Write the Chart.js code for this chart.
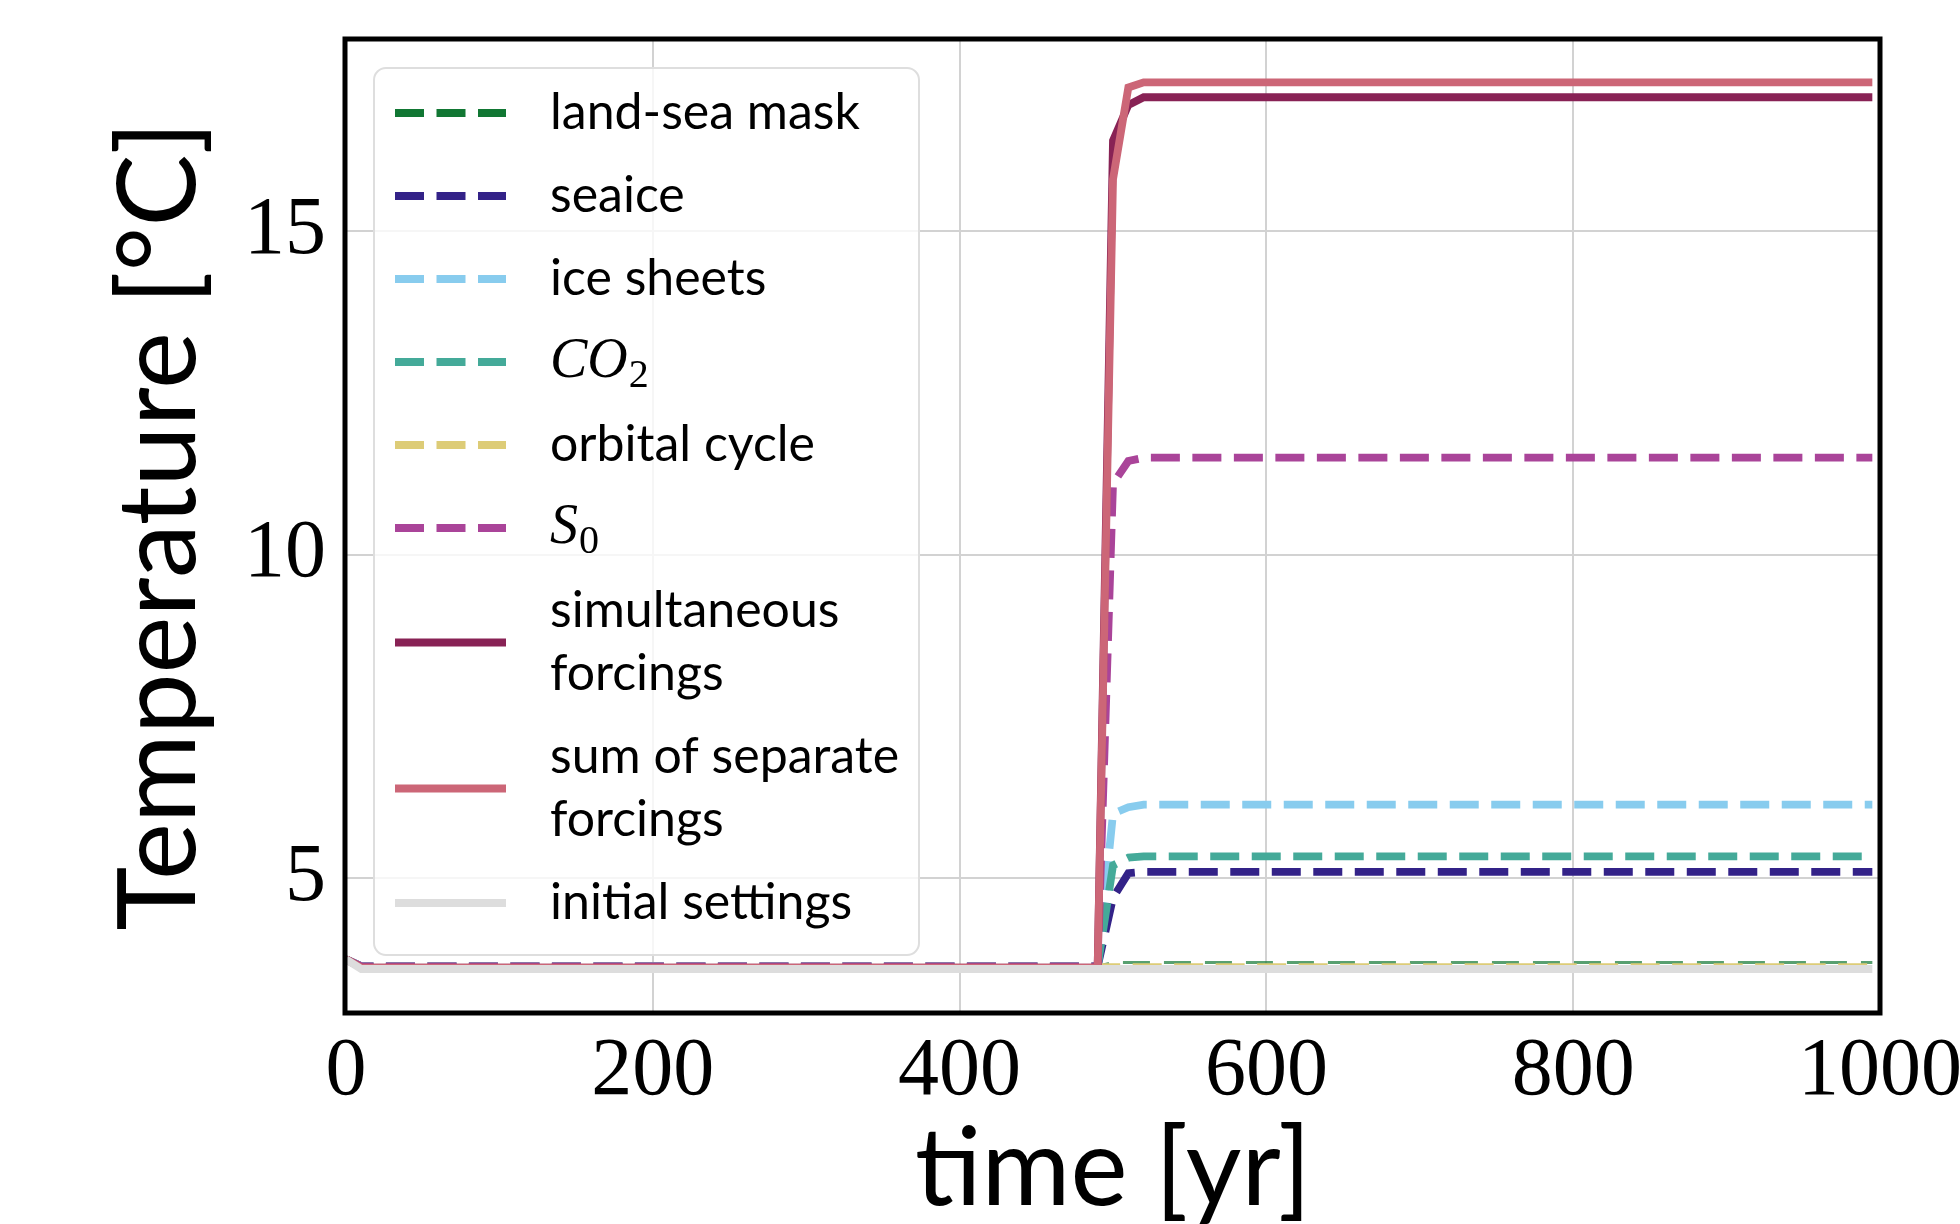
<!DOCTYPE html>
<html>
<head>
<meta charset="utf-8">
<script src="https://cdn.jsdelivr.net/npm/chart.js@4.4.1/dist/chart.umd.min.js"></script>
<style>
  html, body { margin: 0; padding: 0; background: #fff; }
  #wrap { width: 1960px; height: 1224px; }
</style>
</head>
<body>
<div id="wrap"><canvas id="tempChart"></canvas></div>
<script>
// DATA (breakpoints of each curve)
const years = [0, 10, 490, 500, 510, 520, 995];
const landSea = [3.75, 3.64, 3.64, 3.70, 3.70, 3.70, 3.70];
const seaice = [3.75, 3.64, 3.64, 4.70, 5.08, 5.10, 5.10];
const iceSheets = [3.75, 3.64, 3.64, 6.00, 6.10, 6.14, 6.14];
const co2 = [3.75, 3.64, 3.64, 5.20, 5.32, 5.34, 5.34];
const orbital = [3.75, 3.63, 3.63, 3.63, 3.63, 3.63, 3.63];
const s0 = [3.75, 3.64, 3.64, 11.10, 11.45, 11.50, 11.50];
const simultaneous = [3.75, 3.62, 3.62, 16.40, 16.95, 17.07, 17.07];
const sumSeparate = [3.75, 3.62, 3.62, 15.80, 17.22, 17.30, 17.30];
const initial = [3.75, 3.60, 3.60, 3.60, 3.60, 3.60, 3.60];

const seriesLabels = [
  'land-sea mask', 'seaice', 'ice sheets', 'CO_2', 'orbital cycle', 'S_0',
  ['simultaneous', 'forcings'], ['sum of separate', 'forcings'], 'initial settings'
];
const xTickValues = [0, 200, 400, 600, 800, 1000];
const yTickValues = [5, 10, 15];

// STYLE
const colors = ['#117733', '#332288', '#88CCEE', '#44AA99', '#DDCC77', '#AA4499', '#882255', '#CC6677', '#DDDDDD'];
const dashed = [true, true, true, true, true, true, false, false, false];
const DASH = [29, 12.5];

const allSeries = [landSea, seaice, iceSheets, co2, orbital, s0, simultaneous, sumSeparate, initial];

const datasets = allSeries.map((vals, i) => ({
  label: seriesLabels[i],
  data: years.map((t, k) => ({ x: t, y: vals[k] })),
  borderColor: i === 0 ? 'rgba(17,119,51,0.7)' : colors[i],
  legendColor: colors[i],
  borderWidth: i === 0 ? 3 : 7.8,
  borderDash: dashed[i] ? (i === 0 ? [27, 14] : DASH) : [],
  legendDash: dashed[i] ? DASH : [],
  pointRadius: 0,
  tension: 0,
  fill: false,
  order: allSeries.length - i  // later series drawn on top, like matplotlib
}));

function drawLabel(ctx, text, x, y) {
  if (text.includes('_')) {
    const [base, sub] = text.split('_');
    ctx.font = 'italic 56px "Liberation Serif", serif';
    ctx.fillText(base, x, y);
    const w = ctx.measureText(base).width;
    ctx.font = '40px "Liberation Serif", serif';
    ctx.fillText(sub, x + w + 1, y + 14);
  } else {
    ctx.font = '50px Lato, sans-serif';
    ctx.fillText(text, x, y);
  }
}

const boxLegend = {
  id: 'boxLegend',
  afterDatasetsDraw(chart) {
    const ctx = chart.ctx;
    const a = chart.chartArea;
    const bx = a.left + 28, by = a.top + 29, bw = 545, bh = 887;
    ctx.save();
    ctx.beginPath();
    ctx.roundRect(bx, by, bw, bh, 12);
    ctx.fillStyle = 'rgba(255,255,255,0.8)';
    ctx.fill();
    ctx.lineWidth = 2;
    ctx.strokeStyle = '#dedede';
    ctx.stroke();

    ctx.textBaseline = 'middle';
    ctx.textAlign = 'left';
    let y = by + 45;
    chart.data.datasets.forEach(ds => {
      const lines = Array.isArray(ds.label) ? ds.label : [ds.label];
      const mid = y + (lines.length - 1) * 63 / 2;
      ctx.beginPath();
      ctx.setLineDash(ds.legendDash);
      ctx.lineCap = 'butt';
      ctx.lineWidth = 8;
      ctx.strokeStyle = ds.legendColor;
      ctx.moveTo(bx + 21, mid);
      ctx.lineTo(bx + 132, mid);
      ctx.stroke();
      ctx.setLineDash([]);
      ctx.fillStyle = '#000';
      lines.forEach((ln, k) => drawLabel(ctx, ln, bx + 176, y + k * 63));
      y += (lines.length - 1) * 63 + 83;
    });
    ctx.restore();
  },
  afterDraw(chart) {
    const ctx = chart.ctx;
    const a = chart.chartArea;
    ctx.save();
    ctx.lineWidth = 5;
    ctx.strokeStyle = '#000';
    ctx.strokeRect(a.left - 1, a.top, a.right - a.left + 1, a.bottom - a.top);
    ctx.restore();
  }
};

const config = {
  type: 'line',
  data: { datasets },
  options: {
    responsive: true,
    maintainAspectRatio: false,
    animation: false,
    layout: { padding: { left: 0, top: 39, right: 80, bottom: 0 } },
    plugins: {
      legend: { display: false },
      tooltip: { enabled: false }
    },
    scales: {
      x: {
        type: 'linear',
        min: 0,
        max: 1000,
        afterBuildTicks: (scale) => { scale.ticks = xTickValues.map(v => ({ value: v })); },
        afterFit: (scale) => {
          scale.height = 211;
          scale.paddingLeft = 0;
          scale.paddingRight = 0;
        },
        ticks: {
          color: '#000',
          padding: 10,
          maxRotation: 0,
          callback: (v) => String(v),
          font: { family: '"Liberation Serif", serif', size: 82 }
        },
        grid: { color: '#d2d2d2', lineWidth: 2, drawTicks: false },
        border: { display: false },
        title: {
          display: true,
          text: 'time [yr]',
          color: '#000',
          font: { family: 'Lato, sans-serif', size: 108, lineHeight: 1 },
          padding: { top: 0, bottom: 0 }
        }
      },
      y: {
        type: 'linear',
        min: 2.92,
        max: 17.97,
        afterBuildTicks: (scale) => { scale.ticks = yTickValues.map(v => ({ value: v })); },
        afterFit: (scale) => {
          scale.width = 346;
          scale.paddingTop = 0;
          scale.paddingBottom = 0;
        },
        ticks: {
          color: '#000',
          padding: 20,
          callback: (v) => String(v),
          font: { family: '"Liberation Serif", serif', size: 82 }
        },
        grid: { color: '#d2d2d2', lineWidth: 2, drawTicks: false },
        border: { display: false },
        title: {
          display: true,
          text: 'Temperature [°C]',
          color: '#000',
          font: { family: 'Lato, sans-serif', size: 108, lineHeight: 1 },
          padding: { top: 106, bottom: 0 }
        }
      }
    }
  },
  plugins: [boxLegend]
};

const tempChart = new Chart(document.getElementById('tempChart'), config);
</script>
</body>
</html>
